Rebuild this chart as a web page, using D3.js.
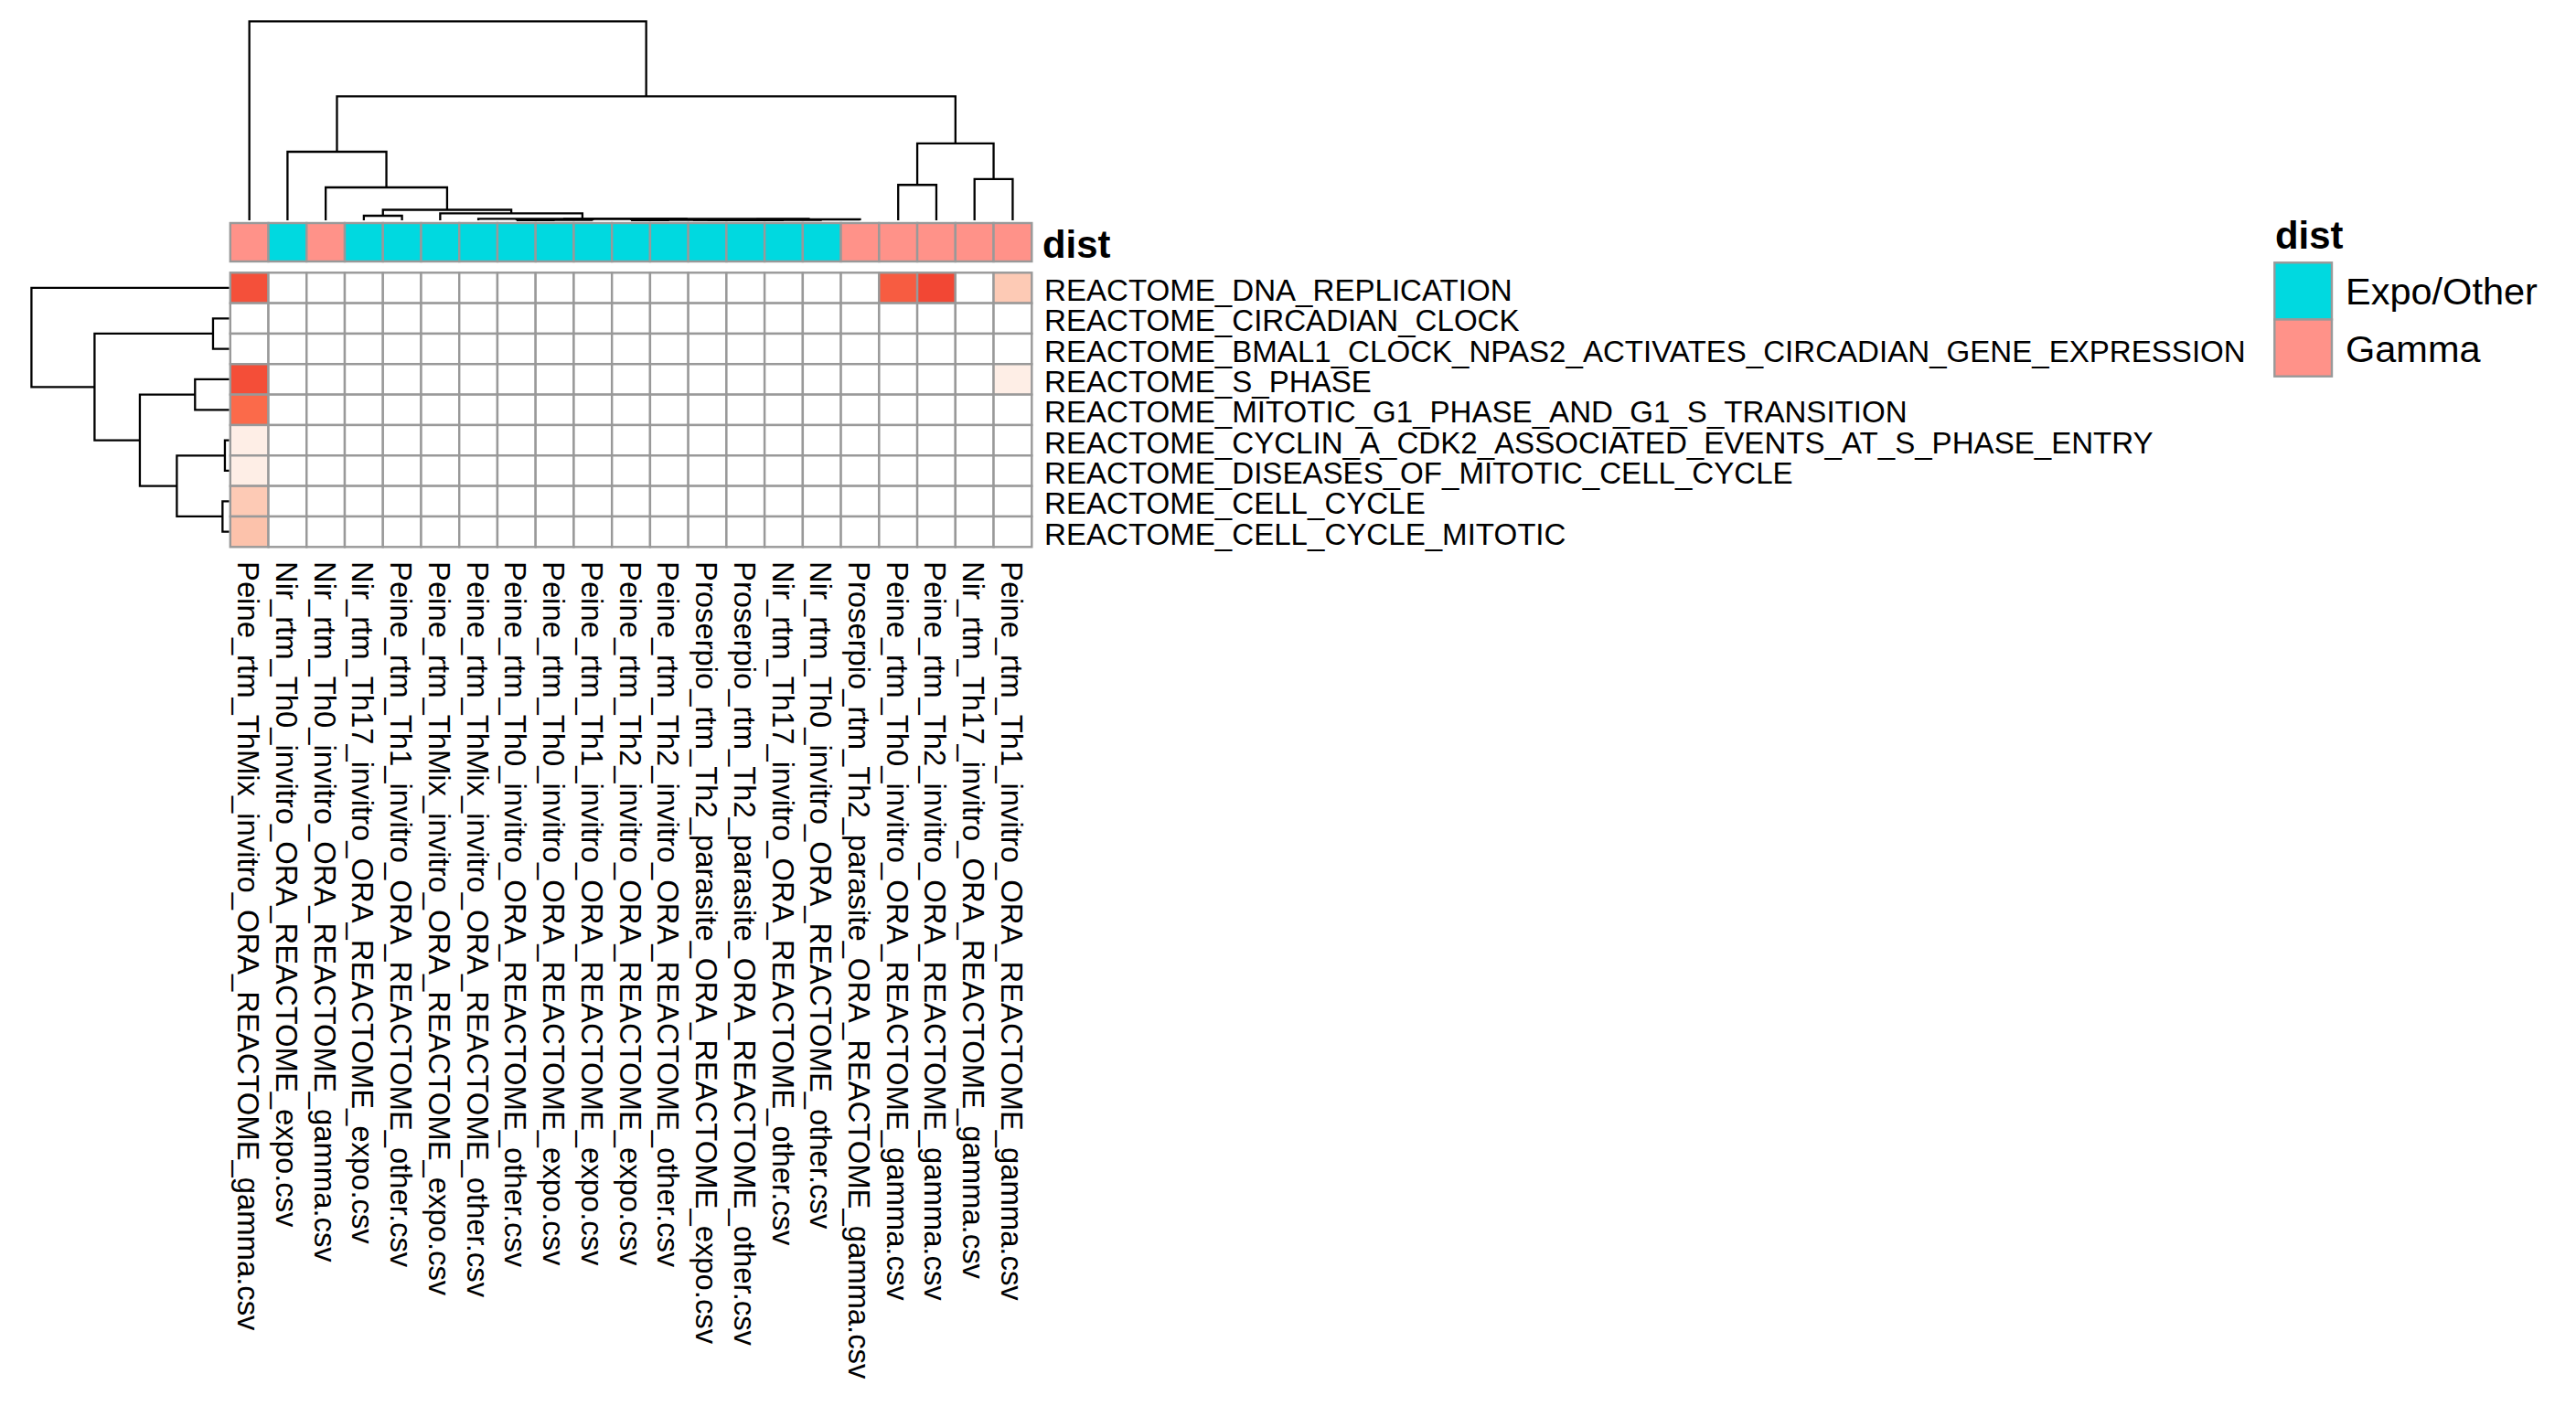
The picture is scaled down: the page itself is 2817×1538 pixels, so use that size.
<!DOCTYPE html>
<html><head><meta charset="utf-8">
<script src="https://cdn.jsdelivr.net/npm/d3@7"></script>
<style>body{margin:0;background:#fff}</style>
</head><body><svg id="c" width="2817" height="1538"></svg>
<script>
const colLabels = [
  "Peine_rtm_ThMix_invitro_ORA_REACTOME_gamma.csv",
  "Nir_rtm_Th0_invitro_ORA_REACTOME_expo.csv",
  "Nir_rtm_Th0_invitro_ORA_REACTOME_gamma.csv",
  "Nir_rtm_Th17_invitro_ORA_REACTOME_expo.csv",
  "Peine_rtm_Th1_invitro_ORA_REACTOME_other.csv",
  "Peine_rtm_ThMix_invitro_ORA_REACTOME_expo.csv",
  "Peine_rtm_ThMix_invitro_ORA_REACTOME_other.csv",
  "Peine_rtm_Th0_invitro_ORA_REACTOME_other.csv",
  "Peine_rtm_Th0_invitro_ORA_REACTOME_expo.csv",
  "Peine_rtm_Th1_invitro_ORA_REACTOME_expo.csv",
  "Peine_rtm_Th2_invitro_ORA_REACTOME_expo.csv",
  "Peine_rtm_Th2_invitro_ORA_REACTOME_other.csv",
  "Proserpio_rtm_Th2_parasite_ORA_REACTOME_expo.csv",
  "Proserpio_rtm_Th2_parasite_ORA_REACTOME_other.csv",
  "Nir_rtm_Th17_invitro_ORA_REACTOME_other.csv",
  "Nir_rtm_Th0_invitro_ORA_REACTOME_other.csv",
  "Proserpio_rtm_Th2_parasite_ORA_REACTOME_gamma.csv",
  "Peine_rtm_Th0_invitro_ORA_REACTOME_gamma.csv",
  "Peine_rtm_Th2_invitro_ORA_REACTOME_gamma.csv",
  "Nir_rtm_Th17_invitro_ORA_REACTOME_gamma.csv",
  "Peine_rtm_Th1_invitro_ORA_REACTOME_gamma.csv"
];
const rowLabels = [
  "REACTOME_DNA_REPLICATION",
  "REACTOME_CIRCADIAN_CLOCK",
  "REACTOME_BMAL1_CLOCK_NPAS2_ACTIVATES_CIRCADIAN_GENE_EXPRESSION",
  "REACTOME_S_PHASE",
  "REACTOME_MITOTIC_G1_PHASE_AND_G1_S_TRANSITION",
  "REACTOME_CYCLIN_A_CDK2_ASSOCIATED_EVENTS_AT_S_PHASE_ENTRY",
  "REACTOME_DISEASES_OF_MITOTIC_CELL_CYCLE",
  "REACTOME_CELL_CYCLE",
  "REACTOME_CELL_CYCLE_MITOTIC"
];
const distLevels = ["Expo/Other", "Gamma"];
const colDist = [
  "Gamma","Expo/Other","Gamma",
  "Expo/Other","Expo/Other","Expo/Other","Expo/Other","Expo/Other","Expo/Other","Expo/Other",
  "Expo/Other","Expo/Other","Expo/Other","Expo/Other","Expo/Other","Expo/Other",
  "Gamma","Gamma","Gamma","Gamma","Gamma"
];
// heatmap values (rows x columns), 0 = no enrichment
const values = [
  [0.91,0,0,0,0,0,0,0,0,0,0,0,0,0,0,0,0,0.86,0.95,0,0.32],
  [0,0,0,0,0,0,0,0,0,0,0,0,0,0,0,0,0,0,0,0,0],
  [0,0,0,0,0,0,0,0,0,0,0,0,0,0,0,0,0,0,0,0,0],
  [0.92,0,0,0,0,0,0,0,0,0,0,0,0,0,0,0,0,0,0,0,0.11],
  [0.80,0,0,0,0,0,0,0,0,0,0,0,0,0,0,0,0,0,0,0,0],
  [0.11,0,0,0,0,0,0,0,0,0,0,0,0,0,0,0,0,0,0,0,0],
  [0.11,0,0,0,0,0,0,0,0,0,0,0,0,0,0,0,0,0,0,0,0],
  [0.32,0,0,0,0,0,0,0,0,0,0,0,0,0,0,0,0,0,0,0,0],
  [0.36,0,0,0,0,0,0,0,0,0,0,0,0,0,0,0,0,0,0,0,0]
];
// hclust-style merges: [left, right, height]; negative = leaf (1-based display order), positive = earlier merge
const colMerge = [
  [-8,-9,0.01],[1,-10,0.02],[-11,-12,0.005],[-14,-15,0.005],[-13,4,0.01],[3,5,0.015],
  [6,-16,0.02],[7,-17,0.046],[2,8,0.075],[-7,9,0.078],[-6,10,0.354],[-4,-5,0.23],
  [12,11,0.528],[-3,13,1.654],[-2,14,3.445],[-18,-19,1.78],[-20,-21,2.07],[16,17,3.86],
  [15,18,6.23],[-1,19,10]
];
const rowMerge = [
  [-6,-7,0.22],[-8,-9,0.34],[-2,-3,0.82],[-4,-5,1.73],[1,2,2.65],[4,5,4.52],[3,6,6.81],[-1,7,10]
];

const svg = d3.select("#c");
svg.append("rect").attr("width",2817).attr("height",1538).attr("fill","#fff");
const FONT = "'Liberation Sans', Arial, Helvetica, sans-serif";
const GRID = "#999999";

const x = d3.scaleBand().domain(d3.range(colLabels.length)).range([251.8, 1128.3]);
const y = d3.scaleBand().domain(d3.range(rowLabels.length)).range([298.3, 598.3]);
const color = d3.scaleLinear().domain([0,0.2,0.4,0.6,0.8,1])
  .range(["#ffffff","#fee0d2","#fcbba1","#fc9272","#fb6a4a","#ef3b2c"]);
const distColor = d3.scaleOrdinal().domain(distLevels).range(["#00D9E0","#FF9289"]);

function layout(merge, leafPos) {
  const pos = [], hts = [], segs = [];
  const get = i => i < 0 ? {p: leafPos(-i-1), h: 0} : {p: pos[i-1], h: hts[i-1]};
  merge.forEach(([a,b,h]) => {
    const A = get(a), B = get(b);
    pos.push((A.p + B.p) / 2); hts.push(h);
    segs.push({A, B, h});
  });
  return segs;
}

// column dendrogram
const colH = d3.scaleLinear().domain([0,10]).range([241, 23.3]);
const colSegs = layout(colMerge, j => x(j) + x.bandwidth()/2);
svg.append("g").selectAll("path").data(colSegs).join("path")
  .attr("d", s => `M${s.A.p},${colH(s.A.h)}V${colH(s.h)}H${s.B.p}V${colH(s.B.h)}`)
  .attr("fill","none").attr("stroke","#000").attr("stroke-width",2.3);

// row dendrogram
const rowH = d3.scaleLinear().domain([0,10]).range([250.7, 34.4]);
const rowSegs = layout(rowMerge, i => y(i) + y.bandwidth()/2);
svg.append("g").selectAll("path").data(rowSegs).join("path")
  .attr("d", s => `M${rowH(s.A.h)},${s.A.p}H${rowH(s.h)}V${s.B.p}H${rowH(s.B.h)}`)
  .attr("fill","none").attr("stroke","#000").attr("stroke-width",2.3);

// annotation bar
svg.append("g").selectAll("rect").data(colDist).join("rect")
  .attr("x",(d,j)=>x(j)).attr("y",244).attr("width",x.bandwidth()).attr("height",42)
  .attr("fill",d=>distColor(d)).attr("stroke",GRID).attr("stroke-width",2.4);
svg.append("text").attr("x",1140).attr("y",281.7).text("dist")
  .attr("font-family",FONT).attr("font-weight","bold").attr("font-size",41.8);

// heatmap cells
const cells = [];
values.forEach((row,i)=>row.forEach((v,j)=>cells.push({i,j,v})));
svg.append("g").selectAll("rect").data(cells).join("rect")
  .attr("x",d=>x(d.j)).attr("y",d=>y(d.i)).attr("width",x.bandwidth()).attr("height",y.bandwidth())
  .attr("fill",d=>color(d.v)).attr("stroke",GRID).attr("stroke-width",2.4);

// row labels
svg.append("g").selectAll("text").data(rowLabels).join("text")
  .attr("x",1142).attr("y",(d,i)=>y(i)+y.bandwidth()/2).attr("dy","0.42em")
  .attr("font-family",FONT).attr("font-size",33.1).text(d=>d);

// column labels
svg.append("g").selectAll("text").data(colLabels).join("text")
  .attr("transform",(d,j)=>`translate(${x(j)+x.bandwidth()/2},614) rotate(90)`)
  .attr("dy","0.38em").attr("font-family",FONT).attr("font-size",32.8).text(d=>d);

// legend
const lg = svg.append("g");
lg.append("text").attr("x",2488).attr("y",271.7).text("dist")
  .attr("font-family",FONT).attr("font-weight","bold").attr("font-size",41.8);
lg.selectAll("rect").data(distLevels).join("rect")
  .attr("x",2487.3).attr("y",(d,k)=>287.3+k*62.2).attr("width",62.7).attr("height",62.2)
  .attr("fill",d=>distColor(d)).attr("stroke",GRID).attr("stroke-width",2.4);
lg.selectAll("text.l").data(distLevels).join("text").attr("class","l")
  .attr("x",2565).attr("y",(d,k)=>333.3+k*62.4).text(d=>d)
  .attr("font-family",FONT).attr("font-size",41.5);
</script></body></html>
